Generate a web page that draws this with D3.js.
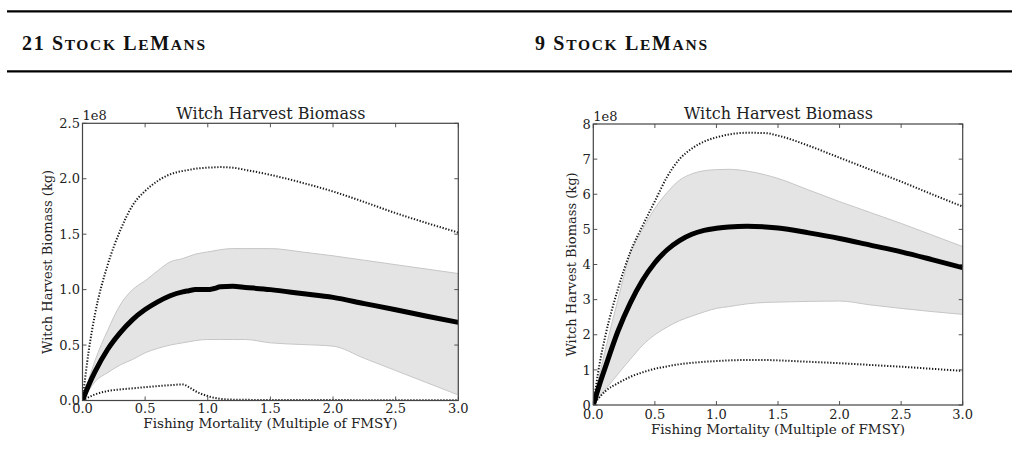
<!DOCTYPE html>
<html>
<head>
<meta charset="utf-8">
<script src="https://cdn.jsdelivr.net/npm/d3@7"></script>
<style>
  body { margin: 0; background: #fff; }
  svg { display: block; }
</style>
</head>
<body>
<svg id="page" width="1012" height="450"></svg>
<script>
// header captions, split into [text, isSmallCap] runs
const headers = [
  [['21 S', false], ['TOCK', true], [' L', false], ['E', true], ['M', false], ['ANS', true]],
  [['9 S', false], ['TOCK', true], [' L', false], ['E', true], ['M', false], ['ANS', true]]
];
const headerX = [22, 535];
const headerWidth = [183, 172];

// shared axis ticks
const xTicks = [0, 0.5, 1.0, 1.5, 2.0, 2.5, 3.0];
const leftYTicks = [0, 0.5, 1.0, 1.5, 2.0, 2.5];
const rightYTicks = [0, 1, 2, 3, 4, 5, 6, 7, 8];

// 21 stock (values in 1e8 kg)
const leftX       = [0, 0.05, 0.1, 0.2, 0.3, 0.4, 0.5, 0.6, 0.7, 0.8, 0.85, 0.9, 1.0, 1.05, 1.1, 1.2, 1.3, 1.5, 1.75, 2.0, 2.25, 2.5, 2.75, 3.0];
const leftMean    = [0, 0.14, 0.26, 0.46, 0.61, 0.73, 0.82, 0.89, 0.945, 0.98, 0.99, 1.0, 1.0, 1.01, 1.025, 1.03, 1.02, 1.0, 0.965, 0.93, 0.874, 0.818, 0.76, 0.705];
const leftBandLo  = [0, 0.09, 0.17, 0.25, 0.32, 0.37, 0.43, 0.47, 0.5, 0.52, 0.53, 0.54, 0.55, 0.55, 0.55, 0.55, 0.55, 0.52, 0.505, 0.49, 0.38, 0.27, 0.16, 0.05];
const leftBandHi  = [0, 0.19, 0.36, 0.63, 0.86, 1.0, 1.08, 1.17, 1.25, 1.28, 1.3, 1.32, 1.34, 1.35, 1.36, 1.37, 1.37, 1.37, 1.34, 1.305, 1.265, 1.225, 1.185, 1.145];
const leftDotLo   = [0, 0.03, 0.055, 0.085, 0.1, 0.11, 0.12, 0.13, 0.138, 0.145, 0.12, 0.085, 0.04, 0.025, 0.015, 0.008, 0.006, 0.005, 0.004, 0.004, 0.003, 0.003, 0.003, 0.003];
const leftDotHi   = [0, 0.45, 0.78, 1.22, 1.53, 1.76, 1.89, 1.98, 2.04, 2.07, 2.08, 2.09, 2.1, 2.103, 2.105, 2.1, 2.08, 2.035, 1.965, 1.885, 1.79, 1.69, 1.6, 1.515];

// 9 stock (values in 1e8 kg)
const rightX      = [0, 0.05, 0.1, 0.2, 0.3, 0.4, 0.5, 0.6, 0.7, 0.8, 0.9, 1.0, 1.1, 1.25, 1.4, 1.5, 1.75, 2.0, 2.25, 2.5, 2.75, 3.0];
const rightMean   = [0, 0.58, 1.1, 2.1, 2.9, 3.55, 4.05, 4.42, 4.68, 4.86, 4.97, 5.03, 5.07, 5.09, 5.07, 5.04, 4.9, 4.74, 4.55, 4.36, 4.14, 3.91];
const rightBandLo = [0, 0.23, 0.45, 0.88, 1.3, 1.7, 2.0, 2.22, 2.4, 2.53, 2.65, 2.75, 2.8, 2.88, 2.92, 2.93, 2.95, 2.96, 2.85, 2.75, 2.66, 2.58];
const rightBandHi = [0, 0.85, 1.6, 3.0, 4.3, 5.0, 5.6, 6.05, 6.4, 6.58, 6.67, 6.7, 6.71, 6.66, 6.55, 6.45, 6.12, 5.79, 5.48, 5.17, 4.84, 4.51];
const rightDotLo  = [0, 0.22, 0.4, 0.62, 0.8, 0.93, 1.03, 1.1, 1.16, 1.2, 1.23, 1.25, 1.27, 1.28, 1.28, 1.27, 1.23, 1.19, 1.14, 1.09, 1.03, 0.97];
const rightDotHi  = [0, 1.15, 2.0, 3.3, 4.35, 5.1, 5.8, 6.5, 7.0, 7.3, 7.5, 7.62, 7.7, 7.75, 7.74, 7.67, 7.38, 7.04, 6.7, 6.36, 6.0, 5.65];

const svg = d3.select('#page');
const serif = "'DejaVu Serif', serif";

// header rules and captions
[11.3, 71.3].forEach((y) => {
  svg.append('line')
    .attr('x1', 7).attr('x2', 1012)
    .attr('y1', y).attr('y2', y)
    .attr('stroke', '#000')
    .attr('stroke-width', 2.3);
});
headers.forEach((runs, i) => {
  const t = svg.append('text')
    .attr('x', headerX[i]).attr('y', 49.5)
    .attr('font-family', "'Liberation Serif', serif")
    .attr('font-weight', 'bold')
    .attr('fill', '#111')
    .attr('textLength', headerWidth[i])
    .attr('lengthAdjust', 'spacing')
    .style('white-space', 'pre');
  runs.forEach(([s, small]) => {
    t.append('tspan')
      .attr('font-size', small ? 15.5 : 20)
      .text(s);
  });
});

function drawChart(opts) {
  const { box, xs, mean, lo, hi, dlo, dhi, yTicks, yFmt, id } = opts;
  const x = d3.scaleLinear().domain([0, 3]).range([box.left, box.right]);
  const y = d3.scaleLinear().domain([0, yTicks[yTicks.length - 1]]).range([box.bottom, box.top]);

  const g = svg.append('g');
  g.append('clipPath').attr('id', id)
    .append('rect')
    .attr('x', box.left).attr('y', box.top)
    .attr('width', box.right - box.left).attr('height', box.bottom - box.top);

  const plot = g.append('g').attr('clip-path', `url(#${id})`);

  const area = d3.area()
    .x((d, i) => x(xs[i]))
    .y0((d, i) => y(lo[i]))
    .y1((d) => y(d))
    .curve(d3.curveMonotoneX);
  plot.append('path')
    .datum(hi)
    .attr('d', area)
    .attr('fill', '#e4e4e4')
    .attr('stroke', '#c6c6c6')
    .attr('stroke-width', 1);

  const line = d3.line()
    .x((d, i) => x(xs[i]))
    .y((d) => y(d))
    .curve(d3.curveMonotoneX);

  [dlo, dhi].forEach((s) => {
    plot.append('path')
      .datum(s)
      .attr('d', line)
      .attr('fill', 'none')
      .attr('stroke', '#1a1a1a')
      .attr('stroke-width', 2)
      .attr('stroke-dasharray', '1.3,1.7');
  });

  plot.append('path')
    .datum(mean)
    .attr('d', line)
    .attr('fill', 'none')
    .attr('stroke', '#000')
    .attr('stroke-width', 5)
    .attr('stroke-linejoin', 'round');

  // ticks inward on all four sides
  const tickLen = 4;
  const tickCol = '#555';
  xTicks.forEach((t) => {
    g.append('line').attr('x1', x(t)).attr('x2', x(t))
      .attr('y1', box.bottom).attr('y2', box.bottom - tickLen)
      .attr('stroke', tickCol);
    g.append('line').attr('x1', x(t)).attr('x2', x(t))
      .attr('y1', box.top).attr('y2', box.top + tickLen)
      .attr('stroke', tickCol);
  });
  yTicks.forEach((t) => {
    g.append('line').attr('x1', box.left).attr('x2', box.left + tickLen)
      .attr('y1', y(t)).attr('y2', y(t))
      .attr('stroke', tickCol);
    g.append('line').attr('x1', box.right).attr('x2', box.right - tickLen)
      .attr('y1', y(t)).attr('y2', y(t))
      .attr('stroke', tickCol);
  });

  g.append('rect')
    .attr('x', box.left).attr('y', box.top)
    .attr('width', box.right - box.left).attr('height', box.bottom - box.top)
    .attr('fill', 'none')
    .attr('stroke', '#444')
    .attr('stroke-width', 1.2);

  // tick labels
  g.selectAll('.xt').data(xTicks).enter().append('text')
    .attr('x', (d) => x(d))
    .attr('y', box.bottom + opts.xTickPad)
    .attr('dy', '0.76em')
    .attr('text-anchor', 'middle')
    .attr('font-family', serif)
    .attr('font-size', 13)
    .attr('fill', '#222')
    .text(d3.format('.1f'));

  g.selectAll('.yt').data(yTicks).enter().append('text')
    .attr('x', box.left - 2.5)
    .attr('y', (d) => y(d))
    .attr('dy', '0.36em')
    .attr('text-anchor', 'end')
    .attr('font-family', serif)
    .attr('font-size', 13)
    .attr('fill', '#222')
    .text(yFmt);

  // offset, title, axis labels
  g.append('text')
    .attr('x', box.left).attr('y', box.top - 3.5)
    .attr('font-family', serif).attr('font-size', 13).attr('fill', '#222')
    .text('1e8');

  g.append('text')
    .attr('x', (box.left + box.right) / 2 + 0.5).attr('y', 119)
    .attr('text-anchor', 'middle')
    .attr('font-family', serif).attr('font-size', 16).attr('fill', '#222')
    .text('Witch Harvest Biomass');

  g.append('text')
    .attr('x', (box.left + box.right) / 2).attr('y', opts.xLabelY)
    .attr('text-anchor', 'middle')
    .attr('font-family', serif).attr('font-size', 13.5).attr('fill', '#222')
    .text('Fishing Mortality (Multiple of FMSY)');

  g.append('text')
    .attr('transform', `translate(${opts.yLabelX}, ${(box.top + box.bottom) / 2}) rotate(-90)`)
    .attr('text-anchor', 'middle')
    .attr('font-family', serif).attr('font-size', 13).attr('fill', '#222')
    .text('Witch Harvest Biomass (kg)');
}

drawChart({
  id: 'clipL',
  box: { left: 82.5, right: 458.3, top: 123.3, bottom: 400.5 },
  xs: leftX, mean: leftMean, lo: leftBandLo, hi: leftBandHi, dlo: leftDotLo, dhi: leftDotHi,
  yTicks: leftYTicks, yFmt: d3.format('.1f'), yLabelX: 52, xTickPad: 2.5, xLabelY: 428
});

drawChart({
  id: 'clipR',
  box: { left: 593.3, right: 962.7, top: 124, bottom: 405 },
  xs: rightX, mean: rightMean, lo: rightBandLo, hi: rightBandHi, dlo: rightDotLo, dhi: rightDotHi,
  yTicks: rightYTicks, yFmt: d3.format('d'), yLabelX: 575.5, xTickPad: 4, xLabelY: 434
});
</script>
</body>
</html>
